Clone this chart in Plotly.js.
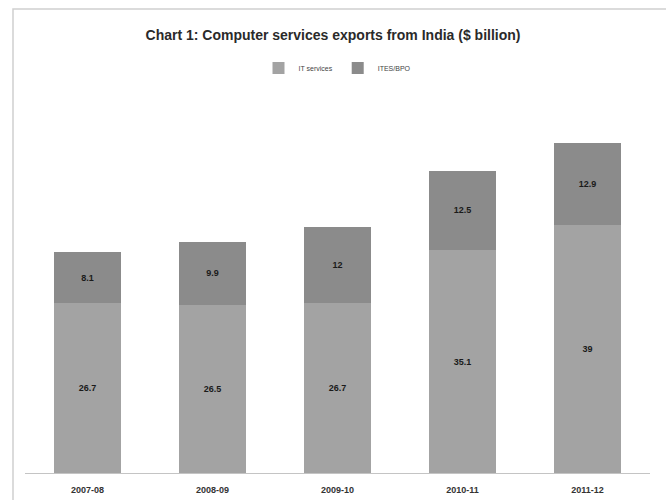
<!DOCTYPE html>
<html>
<head>
<meta charset="utf-8">
<script src="https://cdn.plot.ly/plotly-3.0.1.min.js"></script>
<style>html,body{margin:0;padding:0;background:#fff;}#chart{width:666px;height:500px;}</style>
</head>
<body>
<div id="chart"></div>
<script>
const years = ["2007-08", "2008-09", "2009-10", "2010-11", "2011-12"];
const itServices = [26.7, 26.5, 26.7, 35.1, 39];
const itesBpo = [8.1, 9.9, 12, 12.5, 12.9];
const seriesNames = ["IT services", "ITES/BPO"];

const font = "Liberation Sans Narrow, Liberation Sans, Arial, sans-serif";
const labelFont = {family: font, size: 9, color: "#1a1a1a", weight: "bold"};

const traces = [
  {
    type: "bar", name: seriesNames[0], x: years, y: itServices,
    marker: {color: "#a3a3a3"},
    text: itServices.map(String), texttemplate: "<b>%{text}</b>",
    textposition: "inside", insidetextanchor: "middle",
    textfont: labelFont, hoverinfo: "x+y+name"
  },
  {
    type: "bar", name: seriesNames[1], x: years, y: itesBpo,
    marker: {color: "#8b8b8b"},
    text: itesBpo.map(String), texttemplate: "<b>%{text}</b>",
    textposition: "inside", insidetextanchor: "middle",
    textfont: labelFont, hoverinfo: "x+y+name"
  }
];

const layout = {
  width: 666, height: 500,
  margin: {l: 25, r: 16, t: 92, b: 27},
  paper_bgcolor: "#ffffff", plot_bgcolor: "#ffffff",
  barmode: "stack", bargap: 0.47,
  showlegend: true,
  title: {
    text: "<b>Chart 1: Computer services exports from India ($ billion)</b>",
    font: {family: font, size: 14, color: "#2a2a2a"},
    x: 0.5, xanchor: "center", y: 0.93, yanchor: "middle"
  },
  legend: {
    orientation: "h", x: 0.5, xanchor: "center", y: 1.063, yanchor: "middle",
    font: {family: font, size: 7, color: "#444"},
    itemwidth: 30, traceorder: "normal", bgcolor: "rgba(0,0,0,0)"
  },
  xaxis: {
    type: "category", showline: true, linecolor: "#c4c4c4", linewidth: 1,
    ticks: "", showgrid: false, zeroline: false, ticklabelstandoff: 8,
    tickfont: {family: font, size: 9, color: "#333", weight: "bold"},
    fixedrange: true
  },
  yaxis: {
    range: [0, 60], showgrid: false, zeroline: false, showticklabels: false,
    showline: false, ticks: "", fixedrange: true
  },
  shapes: [
    {type: "rect", xref: "paper", yref: "paper", x0: -0.0192, x1: 1.2, y0: -0.2, y1: 1.218,
     line: {color: "#d0d0d0", width: 1.5}, fillcolor: "rgba(0,0,0,0)", layer: "below"}
  ]
};

Plotly.newPlot("chart", traces, layout, {displayModeBar: false, staticPlot: true});
</script>
</body>
</html>
